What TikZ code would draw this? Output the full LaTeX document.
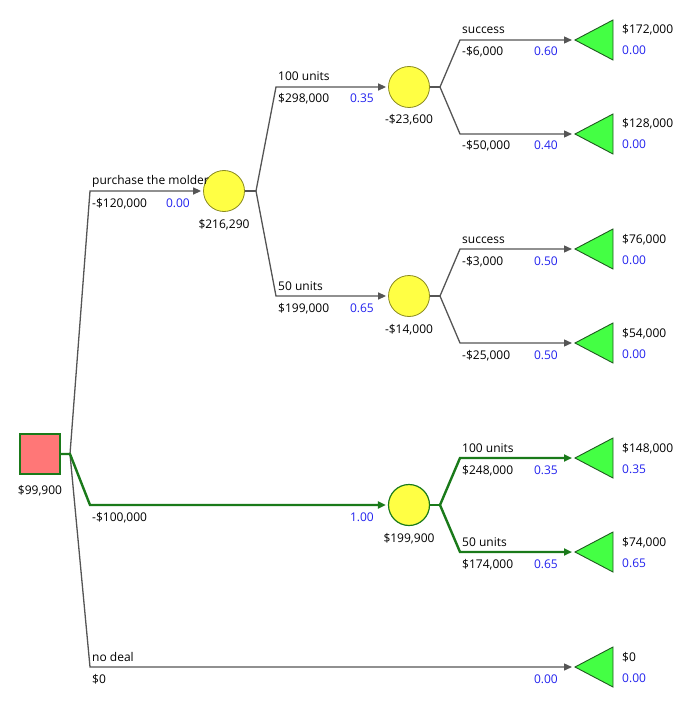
\documentclass[tikz,border=0pt]{standalone}
\usepackage{fontspec}
\setmainfont{Open Sans}
\usetikzlibrary{arrows.meta}
\definecolor{lineg}{HTML}{555555}
\definecolor{pathg}{HTML}{1A7A1A}
\definecolor{chanceY}{HTML}{FFFF44}
\definecolor{chanceB}{HTML}{8A8A20}
\definecolor{leafG}{HTML}{44FF44}
\definecolor{leafB}{HTML}{1F5A1F}
\definecolor{decR}{HTML}{FF7777}
\definecolor{probB}{HTML}{2222EE}
\begin{document}
\begin{tikzpicture}[x=1pt,y=-1pt,font=\fontsize{12}{14}\selectfont,
  edge/.style={draw=lineg,line width=1.3pt},
  best/.style={draw=pathg,line width=2.4pt},
  tip/.style={-{Triangle[length=8pt,width=7pt]}},
  chance/.style={circle,minimum size=41pt,inner sep=0pt,fill=chanceY,draw=chanceB,line width=0.8pt},
  chancebest/.style={chance,draw=pathg,line width=1.2pt},
  decision/.style={rectangle,minimum size=40pt,inner sep=0pt,fill=decR,draw=pathg,line width=1.2pt},
  leaf/.style={fill=leafG,draw=leafB,line width=0.9pt},
  lab/.style={anchor=base west,inner sep=0pt},
  prob/.style={anchor=base east,inner sep=0pt,text=probB},
  leafprob/.style={anchor=base west,inner sep=0pt,text=probB},
  val/.style={anchor=base,inner sep=0pt}]
\useasboundingbox (0,0) rectangle (690,722);

% nodes
\node[decision] (D) at (40,454) {};
\node[val] (vD) at (40,494) {\$99,900};
\node[chance] (C1) at (224,191) {};
\node[val] (vC1) at (224,228) {\$216,290};
\node[chance] (C2) at (409,87) {};
\node[val] (vC2) at (409,124) {-\$23,600};
\node[chance] (C3) at (409,296) {};
\node[val] (vC3) at (409,333) {-\$14,000};
\node[chancebest] (C4) at (409,505) {};
\node[val] (vC4) at (409,542) {\$199,900};

% leaves (apex coordinates)
\coordinate (T1) at (575,40);
\coordinate (T2) at (575,134);
\coordinate (T3) at (575,249);
\coordinate (T4) at (575,343);
\coordinate (T5) at (575,458);
\coordinate (T6) at (575,552);
\coordinate (T7) at (575,667);
\foreach \t in {T1,T2,T3,T4,T5,T6,T7}
  \draw[leaf] (\t) -- ++(38,-20) -- ++(0,40) -- cycle;

% bend coordinates
\coordinate (d0) at (70,454);
\coordinate (b1) at (90,191);
\coordinate (b2) at (90,505);
\coordinate (b3) at (90,667);
\coordinate (c1s) at (256,191);
\coordinate (c1a) at (276,87);
\coordinate (c1b) at (276,296);
\coordinate (c2s) at (440,87);
\coordinate (c2a) at (460,40);
\coordinate (c2b) at (460,134);
\coordinate (c3s) at (440,296);
\coordinate (c3a) at (460,249);
\coordinate (c3b) at (460,343);
\coordinate (c4s) at (440,505);
\coordinate (c4a) at (460,458);
\coordinate (c4b) at (460,552);

% gray connectors
\draw[edge,tip] (d0) -- (b1) -- ([xshift=-2pt]C1.west);
\draw[edge,tip] (d0) -- (b3) -- ([xshift=-3pt]T7);
\draw[edge] (C1.east) -- (c1s);
\draw[edge,tip] (c1s) -- (c1a) -- ([xshift=-2pt]C2.west);
\draw[edge,tip] (c1s) -- (c1b) -- ([xshift=-2pt]C3.west);
\draw[edge] (C2.east) -- (c2s);
\draw[edge,tip] (c2s) -- (c2a) -- ([xshift=-3pt]T1);
\draw[edge,tip] (c2s) -- (c2b) -- ([xshift=-3pt]T2);
\draw[edge] (C3.east) -- (c3s);
\draw[edge,tip] (c3s) -- (c3a) -- ([xshift=-3pt]T3);
\draw[edge,tip] (c3s) -- (c3b) -- ([xshift=-3pt]T4);

% best path
\draw[best,tip] (D.east) -- (d0) -- (b2) -- ([xshift=-2pt]C4.west);
\draw[best] (C4.east) -- (c4s);
\draw[best,tip] (c4s) -- (c4a) -- ([xshift=-3pt]T5);
\draw[best,tip] (c4s) -- (c4b) -- ([xshift=-3pt]T6);

% branch labels level 1
\node[lab] (l1) at (92,185) {purchase the molder};
\node[lab] (l1v) at (92,207) {-\$120,000};
\node[prob] (l1p) at (190,207) {0.00};
\node[lab] (l2v) at (92,521) {-\$100,000};
\node[prob] (l2p) at (374,521) {1.00};
\node[lab] (l3) at (92,661) {no deal};
\node[lab] (l3v) at (92,683) {\$0};
\node[prob] (l3p) at (558,683) {0.00};

% level 2
\node[lab] at (278,81) {100 units};
\node[lab] at (278,103) {\$298,000};
\node[prob] at (374,103) {0.35};
\node[lab] at (278,290) {50 units};
\node[lab] at (278,312) {\$199,000};
\node[prob] at (374,312) {0.65};

% level 3
\node[lab] at (462,34) {success};
\node[lab] at (462,56) {-\$6,000};
\node[prob] at (558,56) {0.60};
\node[lab] at (462,150) {-\$50,000};
\node[prob] at (558,150) {0.40};
\node[lab] at (462,243) {success};
\node[lab] at (462,265) {-\$3,000};
\node[prob] at (558,265) {0.50};
\node[lab] at (462,359) {-\$25,000};
\node[prob] at (558,359) {0.50};
\node[lab] at (462,452) {100 units};
\node[lab] at (462,474) {\$248,000};
\node[prob] at (558,474) {0.35};
\node[lab] at (462,546) {50 units};
\node[lab] at (462,568) {\$174,000};
\node[prob] at (558,568) {0.65};

% leaf values
\node[lab] at (622,34) {\$172,000};
\node[leafprob] at (622,55) {0.00};
\node[lab] at (622,128) {\$128,000};
\node[leafprob] at (622,149) {0.00};
\node[lab] at (622,243) {\$76,000};
\node[leafprob] at (622,264) {0.00};
\node[lab] at (622,337) {\$54,000};
\node[leafprob] at (622,358) {0.00};
\node[lab] at (622,452) {\$148,000};
\node[leafprob] at (622,473) {0.35};
\node[lab] at (622,546) {\$74,000};
\node[leafprob] at (622,567) {0.65};
\node[lab] at (622,661) {\$0};
\node[leafprob] at (622,682) {0.00};
\end{tikzpicture}
\end{document}
